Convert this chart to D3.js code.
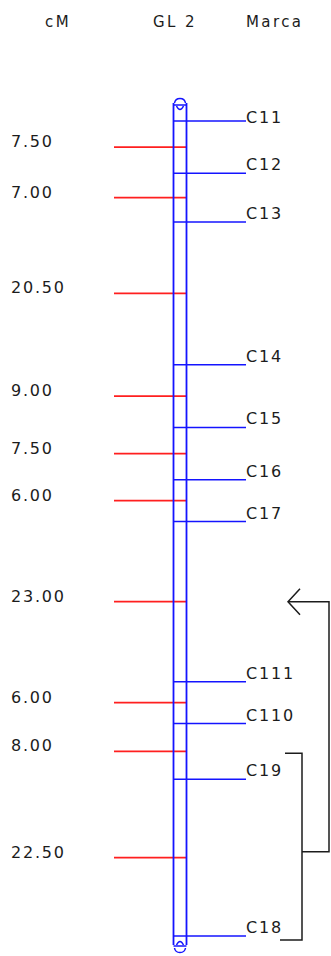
<!DOCTYPE html>
<html>
<head>
<meta charset="utf-8">
<script src="https://cdn.jsdelivr.net/npm/d3@7"></script>
<style>
  html, body { margin: 0; padding: 0; background: #fff; }
  svg { display: block; }
  text { font-family: "DejaVu Sans", "Liberation Sans", Arial, sans-serif; fill: #1c1c1c; }
</style>
</head>
<body>
<svg id="map" width="331" height="956"></svg>
<script>
// Linkage group GL 2: markers in map order and the distances (cM) between neighbours
const markers = ["C11", "C12", "C13", "C14", "C15", "C16", "C17", "C111", "C110", "C19", "C18"];
const intervals = [7.50, 7.00, 20.50, 9.00, 7.50, 6.00, 23.00, 6.00, 8.00, 22.50];
const headers = ["cM", "GL 2", "Marca"];
// Interval pointed at by the arrow, and the marker pair enclosed by the bracket
const arrowInterval = ["C17", "C111"];
const bracketMarkers = ["C19", "C18"];

// cumulative map positions
const positions = [0];
intervals.forEach(d => positions.push(positions[positions.length - 1] + d));
const total = positions[positions.length - 1];

const svg = d3.select("#map");
const y = d3.scaleLinear().domain([0, total]).range([121, 936]);
const fmt = d3.format(".2f");

const tubeL = 173.5, tubeR = 186.5;
const blue = "#1414ff", red = "#ff1f1f", ink = "#1c1c1c";
const fontSize = 16, spacing = 1.8;

// column headers
const headerX = [45, 153, 246];
svg.selectAll("text.header").data(headers).join("text")
  .attr("class", "header")
  .attr("x", (d, i) => headerX[i]).attr("y", 27)
  .attr("font-size", 15).attr("letter-spacing", 2.4)
  .text(d => d);

// interval midpoints with distance ticks (red) and labels
const mids = intervals.map((d, i) => ({ v: d, p: (positions[i] + positions[i + 1]) / 2 }));
svg.selectAll("line.dist").data(mids).join("line")
  .attr("class", "dist")
  .attr("x1", 114).attr("x2", tubeR)
  .attr("y1", d => y(d.p)).attr("y2", d => y(d.p))
  .attr("stroke", red).attr("stroke-width", 1.6);
svg.selectAll("text.dist").data(mids).join("text")
  .attr("class", "dist")
  .attr("x", 11).attr("y", d => y(d.p))
  .attr("font-size", fontSize).attr("letter-spacing", spacing)
  .text(d => fmt(d.v));

// chromosome tube
const tubeTop = 105, tubeBottom = 943;
[tubeL, tubeR].forEach(x => {
  svg.append("line").attr("x1", x).attr("x2", x).attr("y1", tubeTop - 2).attr("y2", tubeBottom + 2)
    .attr("stroke", blue).attr("stroke-width", 1.8);
});
// end caps: dome, rim line and inner arc
function cap(yRim, dir) {
  const g = svg.append("g").attr("fill", "none").attr("stroke", blue).attr("stroke-width", 1.5);
  g.append("line").attr("x1", tubeL).attr("x2", tubeR).attr("y1", yRim).attr("y2", yRim);
  g.append("path").attr("d",
    `M${tubeL + 1},${yRim - 2 * dir} C${tubeL + 2},${yRim - 8 * dir} ${tubeR - 2},${yRim - 8 * dir} ${tubeR - 1},${yRim - 2 * dir}`);
  g.append("path").attr("d",
    `M${tubeL + 3},${yRim + 1 * dir} Q180,${yRim + 8 * dir} ${tubeR - 3},${yRim + 1 * dir}`);
}
cap(tubeTop, 1);
cap(tubeBottom + 3, -1);

// marker lines and names
const mk = markers.map((m, i) => ({ name: m, p: positions[i] }));
svg.selectAll("line.marker").data(mk).join("line")
  .attr("class", "marker")
  .attr("x1", tubeL).attr("x2", 246)
  .attr("y1", d => y(d.p)).attr("y2", d => y(d.p))
  .attr("stroke", blue).attr("stroke-width", 1.5);
svg.selectAll("text.marker").data(mk).join("text")
  .attr("class", "marker")
  .attr("x", 246).attr("y", (d, i) => y(d.p) + (i === 0 ? 2 : -3))
  .attr("font-size", fontSize).attr("letter-spacing", spacing)
  .text(d => d.name);

// arrow to the interval and bracket over the marker pair
const posOf = name => positions[markers.indexOf(name)];
const arrowY = y((posOf(arrowInterval[0]) + posOf(arrowInterval[1])) / 2);
const bTop = y(posOf(bracketMarkers[0])) - 26;
const bBot = y(posOf(bracketMarkers[1])) + 4;
const bMid = (bTop + bBot) / 2 + 5;
const g = svg.append("g").attr("fill", "none").attr("stroke", ink).attr("stroke-width", 1.5);
g.append("path").attr("d", `M285,${bTop} H302 V${bBot} H280`);
g.append("path").attr("d", `M302,${bMid} H329 V${arrowY} H288`);
g.append("path").attr("d", `M300,${arrowY - 13} L288,${arrowY} L300,${arrowY + 13}`);
</script>
</body>
</html>
